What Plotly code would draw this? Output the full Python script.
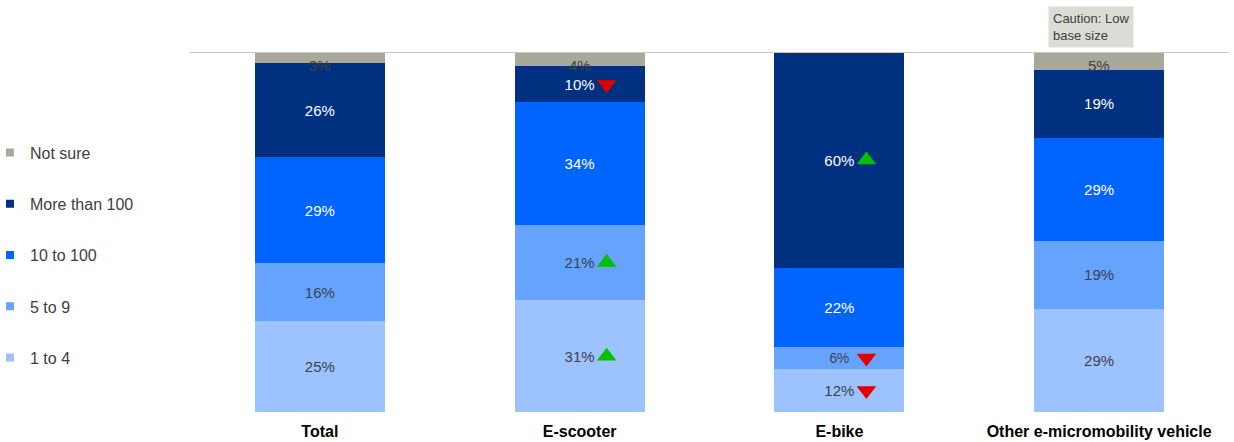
import plotly.graph_objects as go

categories = ["Total", "E-scooter", "E-bike", "Other e-micromobility vehicle"]
series_names = ["1 to 4", "5 to 9", "10 to 100", "More than 100", "Not sure"]
values_1_4 = [25, 31, 12, 29]
values_5_9 = [16, 21, 6, 19]
values_10_100 = [29, 34, 22, 29]
values_100_plus = [26, 10, 60, 19]
values_not_sure = [3, 4, 0, 5]
# significance flags per segment: +1 higher, -1 lower, 0 none
sig_1_4 = [0, 1, -1, 0]
sig_5_9 = [0, 1, -1, 0]
sig_10_100 = [0, 0, 0, 0]
sig_100_plus = [0, -1, 1, 0]

colors = ["#9cc3ff", "#66a3ff", "#0064ff", "#003080", "#a9a999"]
text_colors = ["#404048", "#404048", "#ffffff", "#ffffff", "#404048"]
FONT = "Liberation Sans, Arial"

series = [values_1_4, values_5_9, values_10_100, values_100_plus, values_not_sure]
sigs = [sig_1_4, sig_5_9, sig_10_100, sig_100_plus, None]
xpos = list(range(len(categories)))

fig = go.Figure()

for name, vals, col, tcol in zip(series_names, series, colors, text_colors):
    is_ns = name == "Not sure"
    fig.add_trace(go.Bar(
        x=xpos, y=vals, name=name, marker_color=col, marker_line_width=0,
        width=0.5,
        text=None if is_ns else [f"{v}%" for v in vals],
        textposition="none" if is_ns else "inside",
        insidetextanchor="middle",
        textangle=0,
        textfont=dict(family=FONT, size=15, color=tcol),
        showlegend=False, hoverinfo="skip",
    ))

# "Not sure" labels hang just under the top edge
for i, v in zip(xpos, values_not_sure):
    if v > 0:
        fig.add_annotation(
            x=i, y=100, xref="x", yref="y", text=f"{v}%", showarrow=False,
            yanchor="top", yshift=-3,
            font=dict(family=FONT, size=15, color="#404048"),
        )

# significance triangles beside the segment labels
totals = [sum(s[i] for s in series) for i in xpos]
up_x, up_y, dn_x, dn_y = [], [], [], []
cum = [0.0] * len(xpos)
for vals, sg in zip(series, sigs):
    for i in xpos:
        mid = (cum[i] + vals[i] / 2) / totals[i] * 100
        if sg is not None and sg[i] == 1:
            up_x.append(i + 0.104)
            up_y.append(mid)
        elif sg is not None and sg[i] == -1:
            dn_x.append(i + 0.104)
            dn_y.append(mid)
        cum[i] += vals[i]

fig.add_trace(go.Scatter(
    x=up_x, y=up_y, mode="markers",
    marker=dict(symbol="triangle-up", size=17, color="#00c000", line_width=0),
    showlegend=False, hoverinfo="skip",
))
fig.add_trace(go.Scatter(
    x=dn_x, y=dn_y, mode="markers",
    marker=dict(symbol="triangle-down", size=17, color="#e00000", line_width=0),
    showlegend=False, hoverinfo="skip",
))

# legend entries with small square keys, "Not sure" listed first
for name, col in reversed(list(zip(series_names, colors))):
    fig.add_trace(go.Scatter(
        x=[None], y=[None], mode="markers", name=name,
        marker=dict(symbol="square", size=8, color=col),
        legendgroup=name,
    ))

fig.add_shape(type="line", xref="paper", yref="y", x0=0, x1=1, y0=100, y1=100,
              line=dict(color="#c8c8c8", width=2), layer="above")

fig.add_annotation(
    x=3, y=1.07, xref="x", yref="paper", xshift=-8,
    text="Caution: Low<br>base size", showarrow=False, align="left",
    bgcolor="#dcdcd6", borderpad=4,
    font=dict(family=FONT, size=13, color="#404040"),
    xanchor="center", yanchor="middle",
)

fig.update_layout(
    barmode="stack", barnorm="percent",
    width=1234, height=442,
    margin=dict(l=190, r=5, t=52, b=30, autoexpand=False),
    plot_bgcolor="white", paper_bgcolor="white",
    font=dict(family=FONT, color="#404040"),
    legend=dict(
        x=-0.1925, xanchor="left", y=0.768, yanchor="top",
        traceorder="grouped", tracegroupgap=27.5,
        font=dict(size=16, color="#404040"),
        itemwidth=30, bgcolor="rgba(0,0,0,0)",
    ),
    xaxis=dict(
        range=[-0.5, 3.5], tickvals=xpos,
        ticktext=[f"<b>{c}</b>" for c in categories],
        tickfont=dict(family=FONT, size=16, color="#000000"),
        ticklabelstandoff=8,
        showgrid=False, zeroline=False, showline=False, ticks="",
    ),
    yaxis=dict(range=[0, 100], visible=False, showgrid=False, zeroline=False),
)

fig.write_html("out.html")
